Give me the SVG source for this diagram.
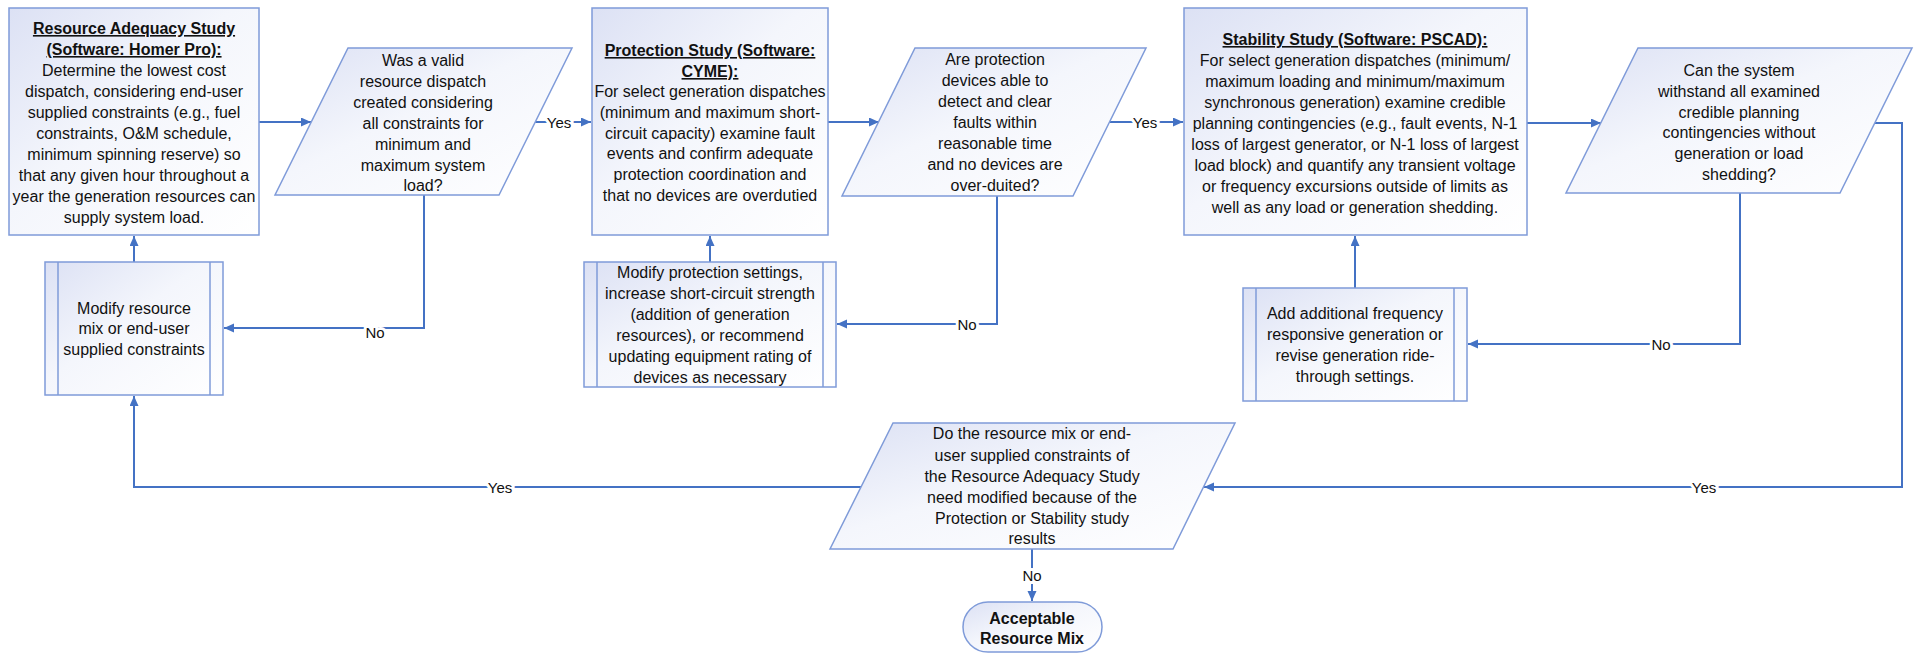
<svg xmlns="http://www.w3.org/2000/svg" width="1918" height="654" viewBox="0 0 1918 654">
<defs>
<linearGradient id="g" x1="0" y1="0" x2="1" y2="1">
<stop offset="0" stop-color="#dce1f4"/>
<stop offset="0.45" stop-color="#f4f6fc"/>
<stop offset="1" stop-color="#ffffff"/>
</linearGradient>
<marker id="ah" markerUnits="userSpaceOnUse" markerWidth="11" markerHeight="10" refX="10" refY="4.5" orient="auto">
<path d="M0,0 L10,4.5 L0,9 z" fill="#4472c4"/>
</marker>
<style>
.shape{fill:url(#g);stroke:#7f9bd9;stroke-width:1.5}
.in{fill:none;stroke:#7f9bd9;stroke-width:1.5}
.t{font-family:"Liberation Sans",Arial,sans-serif;font-size:16px;fill:#111;text-anchor:middle}
.b{font-weight:bold;text-decoration:underline}
.bb{font-weight:bold}
.c{fill:none;stroke:#4472c4;stroke-width:2}
.a{marker-end:url(#ah)}
.lbl{font-family:"Liberation Sans",Arial,sans-serif;font-size:15px;fill:#111;text-anchor:middle;stroke:#fff;stroke-width:6;paint-order:stroke;stroke-linejoin:round}
</style>
</defs>

<g id="connectors">
<path class="c a" d="M259,122 H311"/>
<path class="c a" d="M535,122 H591"/>
<path class="c a" d="M828,122 H879"/>
<path class="c a" d="M1110,122 H1183"/>
<path class="c a" d="M1527,123 H1601"/>
<path class="c a" d="M1875,123 H1902 V487 H1204"/>
<path class="c a" d="M1740,193 V344 H1468"/>
<path class="c a" d="M1355,288 V236"/>
<path class="c a" d="M997,196 V324 H837"/>
<path class="c a" d="M710,262 V236"/>
<path class="c a" d="M424,195 V328 H224"/>
<path class="c a" d="M134,262 V236"/>
<path class="c a" d="M861,487 H134 V396"/>
<path class="c a" d="M1032,549 V601"/>
<text class="lbl" x="559" y="128">Yes</text>
<text class="lbl" x="1145" y="128">Yes</text>
<text class="lbl" x="1704" y="493">Yes</text>
<text class="lbl" x="1661" y="350">No</text>
<text class="lbl" x="967" y="330">No</text>
<text class="lbl" x="375" y="338">No</text>
<text class="lbl" x="500" y="493">Yes</text>
<text class="lbl" x="1032" y="581">No</text>
</g>

<g id="resource-adequacy">
<rect class="shape" x="9" y="8" width="250" height="227"/>
<text class="t b" x="134" y="34">Resource Adequacy Study</text>
<text class="t b" x="134" y="55">(Software: Homer Pro):</text>
<text class="t" x="134" y="76">Determine the lowest cost</text>
<text class="t" x="134" y="97">dispatch, considering end-user</text>
<text class="t" x="134" y="118">supplied constraints (e.g., fuel</text>
<text class="t" x="134" y="139">constraints, O&amp;M schedule,</text>
<text class="t" x="134" y="160">minimum spinning reserve) so</text>
<text class="t" x="134" y="181">that any given hour throughout a</text>
<text class="t" x="134" y="202">year the generation resources can</text>
<text class="t" x="134" y="223">supply system load.</text>
</g>

<g id="decision-valid-dispatch">
<polygon class="shape" points="348,48 572,48 499,195 275,195"/>
<text class="t" x="423" y="66">Was a valid</text>
<text class="t" x="423" y="87">resource dispatch</text>
<text class="t" x="423" y="108">created considering</text>
<text class="t" x="423" y="129">all constraints for</text>
<text class="t" x="423" y="150">minimum and</text>
<text class="t" x="423" y="171">maximum system</text>
<text class="t" x="423" y="191">load?</text>
</g>

<g id="protection-study">
<rect class="shape" x="592" y="8" width="236" height="227"/>
<text class="t b" x="710" y="56">Protection Study (Software:</text>
<text class="t b" x="710" y="77">CYME):</text>
<text class="t" x="710" y="97">For select generation dispatches</text>
<text class="t" x="710" y="118">(minimum and maximum short-</text>
<text class="t" x="710" y="139">circuit capacity) examine fault</text>
<text class="t" x="710" y="159">events and confirm adequate</text>
<text class="t" x="710" y="180">protection coordination and</text>
<text class="t" x="710" y="201">that no devices are overdutied</text>
</g>

<g id="decision-protection">
<polygon class="shape" points="915,48 1146,48 1073,196 842,196"/>
<text class="t" x="995" y="65">Are protection</text>
<text class="t" x="995" y="86">devices able to</text>
<text class="t" x="995" y="107">detect and clear</text>
<text class="t" x="995" y="128">faults within</text>
<text class="t" x="995" y="149">reasonable time</text>
<text class="t" x="995" y="170">and no devices are</text>
<text class="t" x="995" y="191">over-duited?</text>
</g>

<g id="stability-study">
<rect class="shape" x="1184" y="8" width="343" height="227"/>
<text class="t b" x="1355" y="45">Stability Study (Software: PSCAD):</text>
<text class="t" x="1355" y="66">For select generation dispatches (minimum/</text>
<text class="t" x="1355" y="87">maximum loading and minimum/maximum</text>
<text class="t" x="1355" y="108">synchronous generation) examine credible</text>
<text class="t" x="1355" y="129">planning contingencies (e.g., fault events, N-1</text>
<text class="t" x="1355" y="150">loss of largest generator, or N-1 loss of largest</text>
<text class="t" x="1355" y="171">load block) and quantify any transient voltage</text>
<text class="t" x="1355" y="192">or frequency excursions outside of limits as</text>
<text class="t" x="1355" y="213">well as any load or generation shedding.</text>
</g>

<g id="decision-stability">
<polygon class="shape" points="1638,48 1912,48 1840,193 1566,193"/>
<text class="t" x="1739" y="76">Can the system</text>
<text class="t" x="1739" y="97">withstand all examined</text>
<text class="t" x="1739" y="118">credible planning</text>
<text class="t" x="1739" y="138">contingencies without</text>
<text class="t" x="1739" y="159">generation or load</text>
<text class="t" x="1739" y="180">shedding?</text>
</g>

<g id="modify-resource">
<rect class="shape" x="45" y="262" width="178" height="133"/>
<line class="in" x1="58" y1="262" x2="58" y2="395"/>
<line class="in" x1="210" y1="262" x2="210" y2="395"/>
<text class="t" x="134" y="314">Modify resource</text>
<text class="t" x="134" y="334">mix or end-user</text>
<text class="t" x="134" y="355">supplied constraints</text>
</g>

<g id="modify-protection">
<rect class="shape" x="584" y="262" width="252" height="125"/>
<line class="in" x1="597" y1="262" x2="597" y2="387"/>
<line class="in" x1="823" y1="262" x2="823" y2="387"/>
<text class="t" x="710" y="278">Modify protection settings,</text>
<text class="t" x="710" y="299">increase short-circuit strength</text>
<text class="t" x="710" y="320">(addition of generation</text>
<text class="t" x="710" y="341">resources), or recommend</text>
<text class="t" x="710" y="362">updating equipment rating of</text>
<text class="t" x="710" y="383">devices as necessary</text>
</g>

<g id="add-frequency">
<rect class="shape" x="1243" y="288" width="224" height="113"/>
<line class="in" x1="1256" y1="288" x2="1256" y2="401"/>
<line class="in" x1="1454" y1="288" x2="1454" y2="401"/>
<text class="t" x="1355" y="319">Add additional frequency</text>
<text class="t" x="1355" y="340">responsive generation or</text>
<text class="t" x="1355" y="361">revise generation ride-</text>
<text class="t" x="1355" y="382">through settings.</text>
</g>

<g id="decision-modify">
<polygon class="shape" points="893,423 1235,423 1173,549 830,549"/>
<text class="t" x="1032" y="439">Do the resource mix or end-</text>
<text class="t" x="1032" y="461">user supplied constraints of</text>
<text class="t" x="1032" y="482">the Resource Adequacy Study</text>
<text class="t" x="1032" y="503">need modified because of the</text>
<text class="t" x="1032" y="524">Protection or Stability study</text>
<text class="t" x="1032" y="544">results</text>
</g>

<g id="acceptable">
<rect class="shape" x="963" y="602" width="139" height="50" rx="25" ry="25"/>
<text class="t bb" x="1032" y="624">Acceptable</text>
<text class="t bb" x="1032" y="644">Resource Mix</text>
</g>
</svg>
